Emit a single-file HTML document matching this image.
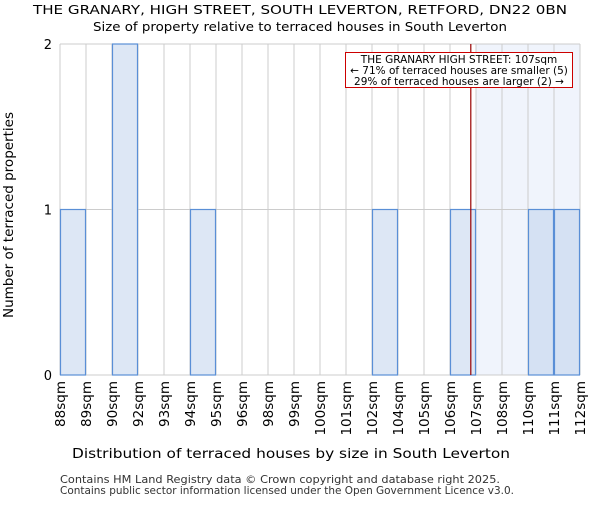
<!DOCTYPE html>
<html><head><meta charset="utf-8"><style>
body{margin:0;background:#fff;font-family:"Liberation Sans","DejaVu Sans",sans-serif;}
svg text{font-family:"DejaVu Sans","Liberation Sans",sans-serif;}
</style></head><body>
<svg id="c" width="600" height="500" xmlns="http://www.w3.org/2000/svg">
<text x="300" y="14" text-anchor="middle" font-size="12.5" textLength="534" lengthAdjust="spacingAndGlyphs" fill="#000">THE GRANARY, HIGH STREET, SOUTH LEVERTON, RETFORD, DN22 0BN</text>
<text x="300" y="31" text-anchor="middle" font-size="12.5" textLength="414" lengthAdjust="spacingAndGlyphs" fill="#000">Size of property relative to terraced houses in South Leverton</text>
<g id="plot"></g>
<text x="291" y="458" text-anchor="middle" font-size="13" textLength="438" lengthAdjust="spacingAndGlyphs">Distribution of terraced houses by size in South Leverton</text>
<text transform="translate(13,215) rotate(-90)" text-anchor="middle" font-size="13" textLength="206" lengthAdjust="spacingAndGlyphs">Number of terraced properties</text>
<text x="60" y="483" font-size="10.5" textLength="440" lengthAdjust="spacingAndGlyphs" fill="#333">Contains HM Land Registry data © Crown copyright and database right 2025.</text>
<text x="60" y="494" font-size="10.5" textLength="454" lengthAdjust="spacingAndGlyphs" fill="#333">Contains public sector information licensed under the Open Government Licence v3.0.</text>
</svg>
<script>
const binLabels=["88sqm","89sqm","90sqm","92sqm","93sqm","94sqm","95sqm","96sqm","98sqm","99sqm","100sqm","101sqm","102sqm","104sqm","105sqm","106sqm","107sqm","108sqm","110sqm","111sqm","112sqm"];
const counts=[1,0,2,0,0,1,0,0,0,0,0,0,1,0,0,1,0,0,1,1];
const yTicks=[0,1,2];
const propertyPos=15.8;
const shadeStart=16;
const NS="http://www.w3.org/2000/svg";
const X0=60,X1=580,YB=375,YT=44,YMAX=2;
const nb=counts.length;
const xs=i=>X0+(X1-X0)*i/nb;
const ys=v=>YB-(YB-YT)*v/YMAX;
const g=document.getElementById('plot');
function el(t,a){const e=document.createElementNS(NS,t);for(const k in a)e.setAttribute(k,a[k]);g.appendChild(e);return e;}
let r=el('rect',{x:xs(shadeStart),y:YT,width:xs(nb)-xs(shadeStart),height:YB-YT,fill:'#f0f4fc'});


for(let i=0;i<=nb;i++){const l=el('line',{x1:xs(i),x2:xs(i),y1:YT,y2:YB,stroke:'#ccc','stroke-width':1});

}
yTicks.forEach(v=>{const l=el('line',{x1:X0,x2:X1,y1:ys(v),y2:ys(v),stroke:'#ccc','stroke-width':1});


const t=el('text',{x:X0-8,y:ys(v)+5,'text-anchor':'end','font-size':13});t.textContent=v;

});
counts.forEach((c,i)=>{if(!c)return;const b=el('rect',{x:xs(i)+0.5,y:ys(c),width:xs(i+1)-xs(i)-1,height:YB-ys(c),fill:i>=shadeStart?'#d5e1f3':'#dde7f5',stroke:'#5a8fd6','stroke-width':1.2});

});
binLabels.forEach((s,i)=>{const t=el('text',{transform:`translate(${xs(i)+5},381) rotate(-90)`,'text-anchor':'end','font-size':13.5});t.textContent=s;

});
const px=xs(propertyPos);
const pl=el('line',{x1:px,x2:px,y1:YT,y2:YB,stroke:'#900','stroke-width':1.2});


const ab=el('rect',{x:345.5,y:52.5,width:227,height:35,fill:'#fff',stroke:'#c00','stroke-width':1});


["THE GRANARY HIGH STREET: 107sqm","← 71% of terraced houses are smaller (5)","29% of terraced houses are larger (2) →"].forEach((s,i)=>{const t=el('text',{x:459,y:63+i*11,'text-anchor':'middle','font-size':10.5});t.textContent=s;

});
</script>
</body></html>
